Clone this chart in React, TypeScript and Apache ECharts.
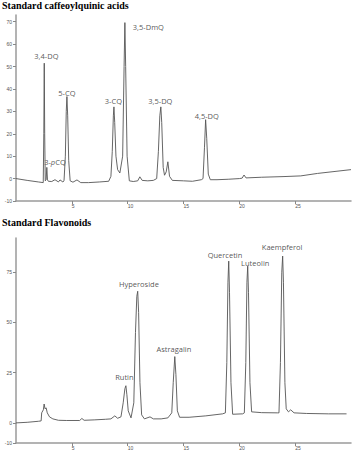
import React, { useEffect, useRef } from "react";
import * as echarts from "echarts";

// Top chromatogram: caffeoylquinic acids (time in min, signal)
const topTimes = [0, 1.0, 2.0, 2.44, 2.49, 2.53, 2.57, 2.62, 2.7, 2.76, 2.82, 2.9, 3.2, 3.49, 3.8, 3.94, 4.2, 4.3, 4.42, 4.5, 4.56, 4.63, 4.72, 4.85, 5.1, 5.46, 5.8, 6.5, 7.5, 8.3, 8.5, 8.62, 8.72, 8.77, 8.84, 8.95, 9.1, 9.3, 9.55, 9.68, 9.75, 9.82, 9.95, 10.15, 10.5, 10.9, 11.09, 11.3, 11.8, 12.3, 12.6, 12.75, 12.88, 12.97, 13.05, 13.18, 13.3, 13.45, 13.6, 13.75, 14.0, 15.0, 15.8, 16.6, 16.75, 16.88, 16.98, 17.08, 17.22, 17.4, 18.0, 19.0, 20.0, 20.25, 20.42, 20.6, 22.0, 24.0, 25.5, 27.0, 30.0];
const topValues = [0, -0.8, -1.5, -1.8, 20, 51.5, 20, -1, -0.5, 5, -0.6, -1.2, -1.3, -0.5, -1.5, -0.6, -1.5, -1, 10, 30, 36.6, 28, 8, -1, -1.6, -0.6, -1.8, -1.8, -1.5, -1.2, 1, 12, 28, 32, 25, 10, 4, 2.5, 10, 50, 69.6, 50, 10, -1, -1.3, -1, 0.8, -0.8, -1, -0.8, 0, 12, 28, 32, 25, 5, 1.5, 3, 7.5, 1, -0.8, -1, -1.2, -0.5, 0, 14, 26.3, 18, 2, -0.5, -0.5, -0.3, 0, 0.2, 1.6, 0.3, 0.6, 0.9, 1.2, 2.3, 4];

const topLabels = ["3,4-DQ", "5-CQ", "3-{i|p}CQ", "3-CQ", "3,5-DmQ", "3,5-DQ", "4,5-DQ"];
const topLabelTimes = [2.77, 4.6, 3.53, 8.77, 11.9, 12.97, 17.13];
const topLabelValues = [54.5, 37.9, 7.1, 34.5, 67.5, 34.5, 27.8];

// Bottom chromatogram: flavonoids
const botTimes = [0, 1, 2, 2.25, 2.3, 2.45, 2.52, 2.6, 2.7, 2.8, 3.0, 3.3, 3.8, 4.5, 5.7, 5.9, 6.1, 7, 8, 8.5, 8.85, 9.1, 9.4, 9.6, 9.75, 9.84, 9.93, 10.05, 10.3, 10.55, 10.7, 10.82, 10.9, 10.98, 11.1, 11.25, 11.5, 12.0, 12.3, 13, 13.6, 13.95, 14.08, 14.22, 14.32, 14.45, 14.65, 15.5, 17, 18.5, 18.75, 18.88, 18.98, 19.05, 19.12, 19.25, 19.4, 20.3, 20.45, 20.58, 20.68, 20.75, 20.82, 20.95, 21.1, 22, 23.4, 23.55, 23.68, 23.8, 23.88, 23.95, 24.08, 24.2, 24.4, 24.6, 24.9, 26, 28, 29.6];
const botValues = [0, 0.3, 0.8, 1, 5, 6.5, 9.4, 7, 7.5, 5, 3, 2, 1.3, 1.2, 1.2, 2.2, 1.3, 1.5, 1.8, 2, 3.5, 2.3, 3, 10, 17, 18.5, 14, 6, 2.5, 10, 45, 63, 65.5, 55, 20, 4, 2, 3, 2, 2, 2.5, 5, 20, 33, 24, 6, 2.8, 2.8, 3.5, 4.5, 5, 30, 70, 80.5, 65, 20, 4.3, 4.5, 5, 30, 70, 78, 65, 20, 5.5, 5.1, 5, 5, 30, 75, 83, 70, 20, 7, 5.5, 6.5, 5, 4.7, 4.5, 4.5];

const botLabels = ["Rutin", "Hyperoside", "Astragalin", "Quercetin", "Luteolin", "Kaempferol"];
const botLabelTimes = [9.75, 11.05, 14.18, 18.76, 21.47, 23.88];
const botLabelValues = [22.4, 69, 36.3, 83.1, 79.3, 87.3];

const xTicks = [5, 10, 15, 20, 25];
const topYTicks = [-10, 0, 10, 20, 30, 40, 50, 60, 70];
const botYTicks = [-10, 0, 25, 50, 75];

const titles = ["Standard caffeoylquinic acids", "Standard Flavonoids"];

export default function App() {
  const ref = useRef<HTMLDivElement>(null);
  useEffect(() => {
    if (!ref.current) return;
    const chart = echarts.init(ref.current, null, { renderer: "svg" });
    const axisLine = { lineStyle: { color: "#9a9a9a", width: 1.5 } };
    const tickStyle = { lineStyle: { color: "#888", width: 1 } };
    const labelStyle = { color: "#555", fontSize: 5, fontFamily: "Liberation Sans" };
    const mkX = (gi: number) => ({
      type: "value",
      gridIndex: gi,
      min: 0,
      max: 30,
      interval: 5,
      axisLine: { ...axisLine, onZero: false },
      axisTick: { show: true, length: 3, customValues: xTicks, ...tickStyle },
      axisLabel: { ...labelStyle, customValues: xTicks, margin: 2, align: "left" },
      splitLine: { show: false },
    });
    const mkY = (gi: number, max: number, ticks: number[]) => ({
      type: "value",
      gridIndex: gi,
      min: -10,
      max,
      axisLine: { ...axisLine, onZero: false },
      axisTick: { show: true, length: 3, customValues: ticks, ...tickStyle },
      axisLabel: { ...labelStyle, customValues: ticks, margin: 4 },
      splitLine: { show: false },
    });
    const txt = { color: "#2a2a2a", fontSize: 7.5, fontFamily: "Open Sans" };
    const labelSeries = (gi: number, names: string[], xs: number[], ys: number[]) => ({
      type: "scatter",
      xAxisIndex: gi,
      yAxisIndex: gi,
      symbolSize: 1,
      itemStyle: { color: "rgba(0,0,0,0)" },
      silent: true,
      label: {
        show: true,
        position: [0, 0],
        align: "center",
        verticalAlign: "middle",
        formatter: (p: any) => p.name,
        ...txt,
        rich: { i: { ...txt, fontStyle: "italic" } },
      },
      data: names.map((n, i) => ({ name: n, value: [xs[i], ys[i]], label: { color: "#2a2a2a" } })),
    });
    chart.setOption({
      animation: false,
      backgroundColor: "#fff",
      title: [
        {
          text: titles[0],
          left: 2,
          top: 0,
          padding: 0,
          textStyle: { fontFamily: "Liberation Serif", fontWeight: "bold", fontSize: 10, color: "#000" },
        },
        {
          text: titles[1],
          left: 2,
          top: 217,
          padding: 0,
          textStyle: { fontFamily: "Liberation Serif", fontWeight: "bold", fontSize: 10, color: "#000" },
        },
      ],
      grid: [
        { left: 16, top: 15, width: 335, height: 186 },
        { left: 16, top: 238, width: 335, height: 205 },
      ],
      xAxis: [mkX(0), mkX(1)],
      yAxis: [mkY(0, 73, topYTicks), mkY(1, 92, botYTicks)],
      series: [
        {
          type: "line",
          xAxisIndex: 0,
          yAxisIndex: 0,
          showSymbol: false,
          symbol: "none",
          lineStyle: { color: "#555", width: 0.9 },
          data: topTimes.map((t, i) => [t, topValues[i]]),
        },
        {
          type: "line",
          xAxisIndex: 1,
          yAxisIndex: 1,
          showSymbol: false,
          symbol: "none",
          lineStyle: { color: "#555", width: 0.9 },
          data: botTimes.map((t, i) => [t, botValues[i]]),
        },
        labelSeries(0, topLabels, topLabelTimes, topLabelValues),
        labelSeries(1, botLabels, botLabelTimes, botLabelValues),
      ],
    });
    return () => chart.dispose();
  }, []);
  return (
    <div
      ref={ref}
      style={{ position: "fixed", left: 0, top: 0, width: 352, height: 450, background: "#fff" }}
    />
  );
}
